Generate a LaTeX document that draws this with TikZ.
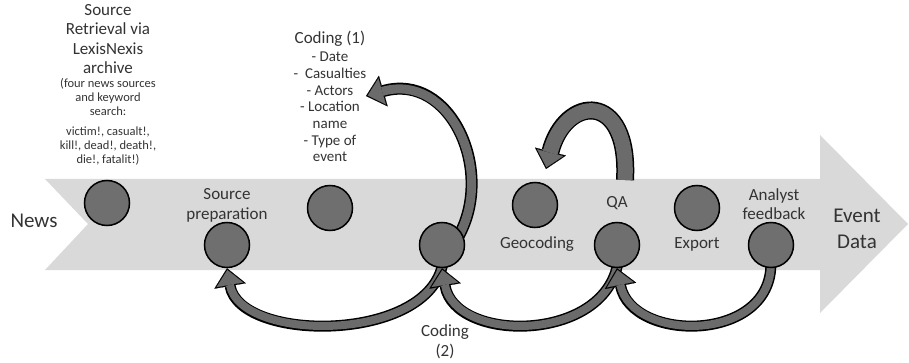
\documentclass[tikz,border=0pt]{standalone}
\usepackage{fontspec}
\setmainfont{Carlito}
\usetikzlibrary{arrows.meta}

\definecolor{bandgray}{HTML}{D9D9D9}
\definecolor{dotgray}{HTML}{6F6F6F}
\definecolor{flowgray}{HTML}{6B6B6B}
\definecolor{inkgray}{HTML}{333333}

\pgfdeclarelayer{band}
\pgfdeclarelayer{flows}
\pgfsetlayers{band,flows,main}

\begin{document}
\begin{tikzpicture}[x=1pt, y=-1pt,
  dot/.style = {circle, fill=dotgray, draw=black, line width=1.5pt, minimum size=45pt, inner sep=0pt},
  txt/.style = {inner sep=0pt, align=center, text=inkgray, font=\fontsize{17}{19.5}\selectfont},
  small/.style = {inner sep=0pt, align=center, text=inkgray, font=\fontsize{12.5}{14}\selectfont},
  item/.style = {inner sep=0pt, align=center, text=inkgray, font=\fontsize{15}{16.7}\selectfont},
  big/.style = {inner sep=0pt, align=center, text=inkgray, font=\fontsize{21}{26}\selectfont},
  flow/.style = {draw=flowgray, line width=#1, shorten >=1.8pt,
    -{Triangle[length=15pt, width=27pt, line width=0.1pt]},
    preaction={draw=black, line width=#1+3pt, shorten >=0pt,
      -{Triangle[length=18pt, width=32pt, line width=0.1pt]}}},
  ]
  \useasboundingbox (0,0) rectangle (909,363);

  % big process arrow
  \begin{pgfonlayer}{band}
    \fill[bandgray] (45,179) -- (820,179) -- (820,135) -- (908,224) -- (820,313)
      -- (820,270) -- (45,270) -- (88,224) -- cycle;
  \end{pgfonlayer}

  % stations
  \node[dot] (news) at (107,203) {};
  \node[dot] (src) at (227,245) {};
  \node[dot] (mid) at (330,208) {};
  \node[dot] (cod) at (442,245) {};
  \node[dot] (geo) at (535,205) {};
  \node[dot] (qa) at (617,245) {};
  \node[dot] (expo) at (697,208) {};
  \node[dot] (ana) at (771,245) {};

  % labels (base = last line)
  \node[big, anchor=base] (newslbl) at (34,228) {News};
  \node[big, anchor=base] (evlbl) at (857,248) {Event\\Data};
  \node[txt, anchor=base] (srclbl) at (227,219) {Source\\preparation};
  \node[txt, anchor=base] (geolbl) at (537,248) {Geocoding};
  \node[txt, anchor=base] (qalbl) at (617,208) {QA};
  \node[txt, anchor=base] (expolbl) at (697,248) {Export};
  \node[txt, anchor=base] (analbl) at (774,220) {Analyst\\feedback};
  \node[txt, anchor=base] (cod2lbl) at (445,356) {Coding\\(2)};

  \node[txt, anchor=base] (retr) at (108,74) {Source\\Retrieval via\\LexisNexis\\archive};
  \node[small, anchor=base] (terms) at (108,164)
    {(four news sources\\and keyword\\search:\\[6pt]victim!, casualt!,\\kill!, dead!, death!,\\die!, fatalit!)};

  \node[txt, anchor=base] (code1) at (330,44) {Coding (1)};
  \node[item, anchor=base] (code1items) at (330,162)
    {- Date\\-\ \ Casualties\\- Actors\\- Location\\name\\- Type of\\event};

  \coordinate (code1tip) at (366,96);
  \coordinate (qaloop) at (625,180);
  \coordinate (geotip) at (546,169);

  % loops between the steps
  \begin{pgfonlayer}{flows}
    \draw[flow=9pt, shorten <=-5pt] (cod.35) .. controls (495,170) and (450,72) .. (code1tip);
    \draw[flow=15pt] (qaloop) .. controls (630,90) and (565,95) .. (geotip);
    \draw[flow=8pt, shorten <=-6pt] (cod.south) .. controls (430,343) and (240,343) .. (src.south);
    \draw[flow=8pt, shorten <=-6pt] (qa.south) .. controls (605,343) and (455,343) .. (cod.south);
    \draw[flow=8pt, shorten <=-6pt] (ana.south) .. controls (773,343) and (632,343) .. (qa.south);
  \end{pgfonlayer}
\end{tikzpicture}
\end{document}
